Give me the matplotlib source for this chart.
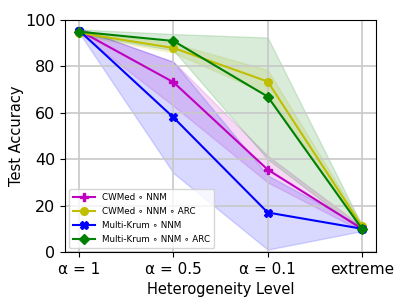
import matplotlib
matplotlib.use("Agg")
import matplotlib.pyplot as plt
import numpy as np

levels = ["α = 1", "α = 0.5", "α = 0.1", "extreme"]
labels = ["CWMed ∘ NNM", "CWMed ∘ NNM ∘ ARC", "Multi-Krum ∘ NNM", "Multi-Krum ∘ NNM ∘ ARC"]
colors = ["m", "y", "b", "g"]
markers = ["P", "o", "X", "D"]

cwmed_nnm = [95.5, 73.2, 35.5, 10.0]
cwmed_nnm_lo = [94.5, 63.0, 30.0, 9.0]
cwmed_nnm_hi = [96.5, 82.0, 41.5, 11.0]

cwmed_arc = [94.5, 88.0, 73.5, 11.0]
cwmed_arc_lo = [93.5, 86.0, 68.0, 10.0]
cwmed_arc_hi = [95.5, 90.0, 78.5, 12.0]

mk_nnm = [95.5, 58.0, 17.0, 10.0]
mk_nnm_lo = [94.5, 34.0, 1.0, 9.0]
mk_nnm_hi = [96.5, 82.0, 33.0, 11.0]

mk_arc = [95.0, 91.0, 67.0, 10.0]
mk_arc_lo = [94.0, 87.0, 40.0, 9.0]
mk_arc_hi = [96.0, 94.0, 92.5, 11.5]

means = [cwmed_nnm, cwmed_arc, mk_nnm, mk_arc]
lows = [cwmed_nnm_lo, cwmed_arc_lo, mk_nnm_lo, mk_arc_lo]
highs = [cwmed_nnm_hi, cwmed_arc_hi, mk_nnm_hi, mk_arc_hi]

fig = plt.figure(figsize=(4.07, 3.05), dpi=100)
ax = fig.add_axes([0.16, 0.174, 0.764, 0.76])
x = np.arange(len(levels))
for m, lo, hi, c, mk, lab in zip(means, lows, highs, colors, markers, labels):
    ax.plot(x, m, color=c, marker=mk, lw=1.5, ms=5.5, label=lab)
    ax.fill_between(x, lo, hi, color=c, alpha=0.15)

ax.set_xticks(x)
ax.set_xticklabels(levels, fontsize=11)
ax.set_ylim(0, 100)
ax.set_yticks([0, 20, 40, 60, 80, 100])
ax.tick_params(axis='y', labelsize=11.5)
ax.set_xlabel("Heterogeneity Level", fontsize=10.5)
ax.set_ylabel("Test Accuracy", fontsize=10.5, labelpad=1)
ax.grid(True, lw=1.2, color="#c8c8c8")
ax.legend(loc="lower left", fontsize=6.3, handlelength=2.5, labelspacing=0.55, borderpad=0.45)
fig.savefig("out.png", dpi=100)
